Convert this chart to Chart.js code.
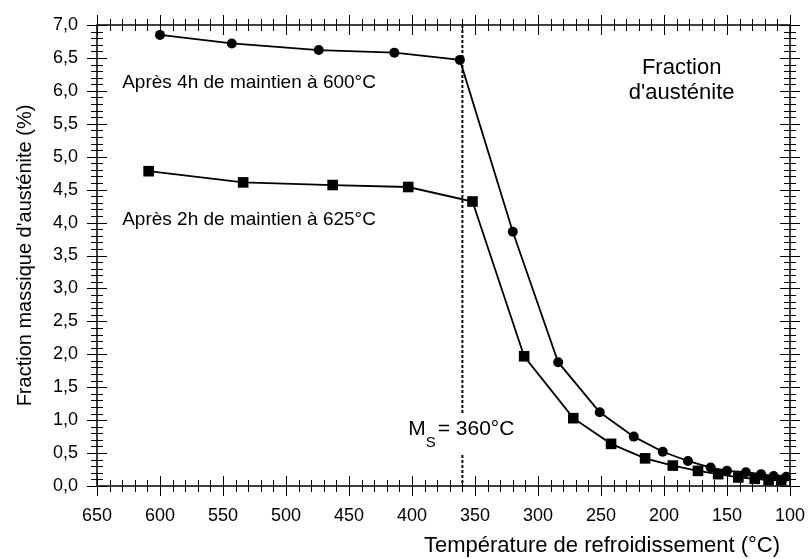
<!DOCTYPE html>
<html>
<head>
<meta charset="utf-8">
<script src="https://cdn.jsdelivr.net/npm/chart.js@4.4.1/dist/chart.umd.min.js"></script>
<style>
  html, body { margin: 0; padding: 0; background: #fff; }
  #wrap { width: 808px; height: 559px; }
</style>
</head>
<body>
<div id="wrap"><canvas id="chart" width="808" height="559"></canvas></div>
<script>
// valeurs
const tempCercles = [600, 543, 474, 414, 362, 320, 284, 251, 224, 201, 181, 163, 150, 135, 123, 113, 103];
const fracCercles = [6.85, 6.72, 6.62, 6.58, 6.47, 3.86, 1.88, 1.12, 0.75, 0.52, 0.38, 0.28, 0.23, 0.21, 0.18, 0.15, 0.14];

const tempCarres = [609, 534, 463, 403, 352, 311, 272, 242, 215, 193, 173, 157, 141, 128, 117, 107];
const fracCarres = [4.78, 4.61, 4.57, 4.54, 4.32, 1.97, 1.03, 0.64, 0.42, 0.31, 0.23, 0.18, 0.13, 0.11, 0.09, 0.09];

const xTicks = [650, 600, 550, 500, 450, 400, 350, 300, 250, 200, 150, 100];
const yTicks = [0, 0.5, 1, 1.5, 2, 2.5, 3, 3.5, 4, 4.5, 5, 5.5, 6, 6.5, 7];

const MS = 360;

const FONT = "'Liberation Sans', Arial, sans-serif";
Chart.defaults.font.family = FONT;
Chart.defaults.color = "#000";

function toPoints(xs, ys) {
    return xs.map((x, i) => ({ x: x, y: ys[i] }));
}

// cadre, graduations croisées, ligne Ms et textes
const decorPlugin = {
    id: "decor",
    beforeDatasetsDraw(chart) {
        const ctx = chart.ctx;
        const xs = chart.scales.x;
        const ys = chart.scales.y;
        const area = chart.chartArea;
        const px = xs.getPixelForValue(MS);

        ctx.save();
        ctx.strokeStyle = "#000";
        ctx.lineWidth = 2;
        ctx.setLineDash([3, 2]);
        ctx.beginPath();
        ctx.moveTo(px, area.top);
        ctx.lineTo(px, area.bottom);
        ctx.stroke();
        ctx.setLineDash([]);

        // étiquette Ms sur fond blanc
        const lx = xs.getPixelForValue(403);
        const ly = ys.getPixelForValue(0.77);
        ctx.fillStyle = "#fff";
        ctx.fillRect(lx - 4, ly - 22, 118, 40);
        ctx.fillStyle = "#000";
        ctx.textBaseline = "alphabetic";
        ctx.textAlign = "left";
        ctx.font = "21px " + FONT;
        ctx.fillText("M", lx, ly);
        let w = ctx.measureText("M").width;
        ctx.font = "15px " + FONT;
        ctx.fillText("S", lx + w, ly + 12);
        w += ctx.measureText("S").width;
        ctx.font = "21px " + FONT;
        ctx.fillText("= 360°C", lx + w + 2, ly);

        ctx.font = "19px " + FONT;
        ctx.fillText("Après 4h de maintien à 600°C", xs.getPixelForValue(630), ys.getPixelForValue(6.05));
        ctx.fillText("Après 2h de maintien à 625°C", xs.getPixelForValue(630), ys.getPixelForValue(3.96));

        ctx.font = "22px " + FONT;
        ctx.textAlign = "center";
        ctx.fillText("Fraction", xs.getPixelForValue(186), ys.getPixelForValue(6.25));
        ctx.fillText("d'austénite", xs.getPixelForValue(186), ys.getPixelForValue(5.87));

        // titre de l'axe x, aligné à droite
        ctx.textAlign = "right";
        ctx.fillText("Température de refroidissement (°C)", area.right - 10, 552);
        ctx.restore();
    },
    afterDatasetsDraw(chart) {
        const ctx = chart.ctx;
        const xs = chart.scales.x;
        const ys = chart.scales.y;
        const a = chart.chartArea;

        ctx.save();
        ctx.strokeStyle = "#000";
        ctx.lineWidth = 1;
        ctx.beginPath();
        for (let t = 100; t <= 650; t += 10) {
            const p = Math.round(xs.getPixelForValue(t)) + 0.5;
            const len = t % 50 === 0 ? 10 : 6;
            ctx.moveTo(p, a.bottom - len);
            ctx.lineTo(p, a.bottom + len);
            ctx.moveTo(p, a.top - len);
            ctx.lineTo(p, a.top + len);
        }
        for (let k = 0; k <= 70; k++) {
            const p = Math.round(ys.getPixelForValue(k / 10)) + 0.5;
            const len = k % 5 === 0 ? 10 : 6;
            ctx.moveTo(a.left - len, p);
            ctx.lineTo(a.left + len, p);
            ctx.moveTo(a.right - len, p);
            ctx.lineTo(a.right + len, p);
        }
        ctx.stroke();

        ctx.lineWidth = 1.5;
        ctx.strokeRect(a.left, a.top, a.right - a.left, a.bottom - a.top);
        ctx.restore();
    }
};

const ctx = document.getElementById("chart").getContext("2d");
new Chart(ctx, {
    type: "scatter",
    data: {
        datasets: [
            {
                label: "Après 4h de maintien à 600°C",
                data: toPoints(tempCercles, fracCercles),
                showLine: true,
                borderColor: "#000",
                backgroundColor: "#000",
                borderWidth: 1.8,
                pointStyle: "circle",
                pointRadius: 5,
                pointBorderWidth: 0,
            },
            {
                label: "Après 2h de maintien à 625°C",
                data: toPoints(tempCarres, fracCarres),
                showLine: true,
                borderColor: "#000",
                backgroundColor: "#000",
                borderWidth: 1.8,
                pointStyle: "rect",
                pointRadius: 7.5,
                pointBorderWidth: 0,
            },
        ],
    },
    options: {
        responsive: false,
        animation: false,
        layout: { padding: { top: 25, right: 18, left: 0, bottom: 0 } },
        plugins: {
            legend: { display: false },
            tooltip: { enabled: false },
        },
        scales: {
            x: {
                type: "linear",
                reverse: true,
                min: 100,
                max: 650,
                border: { display: false },
                grid: { display: false },
                afterBuildTicks: s => { s.ticks = xTicks.map(v => ({ value: v })); },
                afterFit: s => {
                    s.height = 73;
                    s.paddingLeft = 0;
                    s.paddingRight = 0;
                },
                ticks: {
                    padding: 11,
                    maxRotation: 0,
                    autoSkip: false,
                    font: { size: 18 },
                    color: "#000",
                },
            },
            y: {
                type: "linear",
                min: 0,
                max: 7,
                border: { display: false },
                grid: { display: false },
                afterBuildTicks: s => { s.ticks = yTicks.map(v => ({ value: v })); },
                afterFit: s => {
                    s.width = 97;
                    s.paddingTop = 0;
                    s.paddingBottom = 0;
                },
                ticks: {
                    padding: 11,
                    autoSkip: false,
                    font: { size: 18 },
                    color: "#000",
                    callback: v => v.toFixed(1).replace(".", ","),
                },
                title: {
                    display: true,
                    text: "Fraction massique d'austénite (%)",
                    font: { size: 20 },
                    color: "#000",
                    padding: { top: 13, bottom: 0 },
                },
            },
        },
    },
    plugins: [decorPlugin],
});
</script>
</body>
</html>
